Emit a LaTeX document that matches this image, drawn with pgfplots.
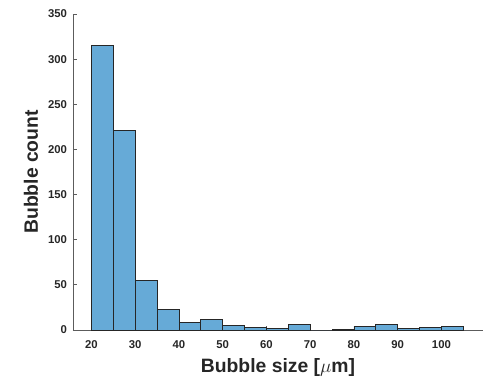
\documentclass[border=0pt]{standalone}
\usepackage{pgfplots}
\pgfplotsset{compat=1.18}
\usepackage{fontspec}
\setmainfont{Liberation Sans}
\definecolor{barfill}{RGB}{102,170,215}
\definecolor{axgray}{RGB}{38,38,38}
\begin{document}
\begin{tikzpicture}
\begin{axis}[
  name=ax,
  scale only axis,
  width=307.5pt, height=237pt,
  xmin=15.8, xmax=109.5, ymin=0, ymax=350,
  axis x line*=bottom, axis y line*=left,
  axis line style={-, draw=axgray!75, line width=0.6pt},
  xtick={20,30,...,100}, ytick={0,50,...,350},
  tick align=inside, major tick length=3pt,
  tick style={draw=axgray!75, line width=0.6pt},
  /pgf/number format/assume math mode=true,
  ticklabel style={font=\fontsize{8.5}{10}\selectfont\bfseries, text=axgray},
  xticklabel style={yshift=-4.5pt},
  yticklabel style={xshift=-1pt},
  xlabel={Bubble size [$\mu$m]},
  ylabel={Bubble count},
  every axis x label/.style={at={([yshift=-31.5pt]rel axis cs:0.5,0)}, anchor=base, font=\fontsize{14.5}{16}\selectfont\bfseries, text=axgray},
  every axis y label/.style={at={([xshift=-26.25pt]rel axis cs:0,0.5)}, anchor=base, rotate=90, font=\fontsize{14.5}{16}\selectfont\bfseries, text=axgray},
]
\addplot[ybar interval, fill=barfill, draw=black!85, line width=0.5pt] coordinates {
  (20,315) (25,221) (30,55) (35,23) (40,8) (45,12) (50,5) (55,3) (60,2) (65,6)
  (70,0) (75,1) (80,4) (85,6) (90,2) (95,3) (100,4) (105,4)
};
\end{axis}
\pgfresetboundingbox
\path ([xshift=-54.75pt,yshift=-35.25pt]ax.south west) rectangle ([yshift=10.5pt]ax.north east);
\end{tikzpicture}
\end{document}
